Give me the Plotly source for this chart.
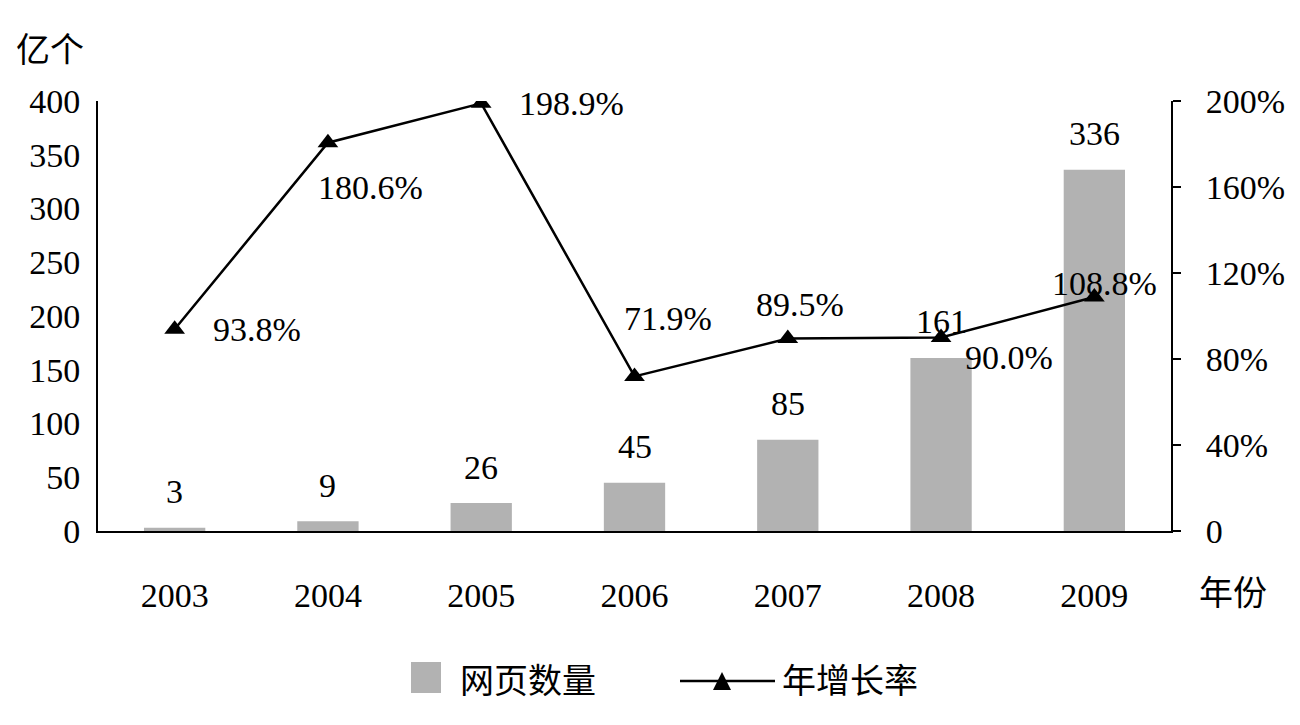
import plotly.graph_objects as go

years = ["2003", "2004", "2005", "2006", "2007", "2008", "2009"]
pages = [3, 9, 26, 45, 85, 161, 336]
growth = [93.8, 180.6, 198.9, 71.9, 89.5, 90.0, 108.8]
growth_labels = ["93.8%", "180.6%", "198.9%", "71.9%", "89.5%", "90.0%", "108.8%"]
# label offsets (px) relative to each point
g_dx = [82, 43, 90, 33, 12, 68, 10]
g_dy = [0, -45, 0, 58, 34, -20, 14]

SERIF = "Liberation Serif, Times New Roman, serif"
CJK = "Noto Sans CJK SC"
FS = 34
GRAY = "#b2b2b2"

L, R, T, B = 98, 129, 101, 194
W, H = 1300, 725
PW, PH = W - L - R, H - T - B


def px(x):
    return (x - L) / PW


def py(y):
    return (H - B - y) / PH


xi = list(range(len(years)))

fig = go.Figure()
fig.add_trace(go.Bar(x=xi, y=pages, marker=dict(color=GRAY, line=dict(width=0)),
                     width=0.4, showlegend=False, yaxis="y"))
fig.add_trace(go.Scatter(x=xi, y=growth, yaxis="y2", mode="lines+markers",
                         line=dict(color="black", width=2.5),
                         marker=dict(symbol="triangle-up", size=18, color="black"),
                         showlegend=False))

annotations = []
for i, v in zip(xi, pages):
    annotations.append(dict(x=i, y=v, xref="x", yref="y", text=str(v), showarrow=False,
                            xanchor="center", yanchor="middle",
                            yshift=36, font=dict(family=SERIF, size=FS, color="black")))
for i, v, t, dx, dy in zip(xi, growth, growth_labels, g_dx, g_dy):
    annotations.append(dict(x=i, y=v, xref="x", yref="y2", text=t, showarrow=False,
                            xanchor="center", yanchor="middle",
                            xshift=dx, yshift=dy, font=dict(family=SERIF, size=FS, color="black")))


def paper_text(x, y, text, xanchor="center"):
    return dict(x=px(x), y=py(y), xref="paper", yref="paper", text=text, showarrow=False,
                xanchor=xanchor, yanchor="middle",
                font=dict(family=CJK, size=FS, color="black"))


annotations.append(paper_text(50, 47, "亿个"))
annotations.append(paper_text(1233, 590, "年份"))
# legend
annotations.append(paper_text(458, 678, "网页数量", "left"))
annotations.append(paper_text(780, 678, "年增长率", "left"))

shapes = [
    dict(type="rect", xref="paper", yref="paper", x0=px(411), x1=px(441), y0=py(693), y1=py(662),
         fillcolor=GRAY, line=dict(width=0)),
    dict(type="line", xref="paper", yref="paper", x0=px(680), x1=px(775), y0=py(681), y1=py(681),
         line=dict(color="black", width=2.5)),
    dict(type="path", xref="paper", yref="paper",
         path=f"M {px(713)},{py(690)} L {px(731)},{py(690)} L {px(722)},{py(672)} Z",
         fillcolor="black", line=dict(width=0)),
]

fig.update_layout(
    width=W, height=H,
    margin=dict(l=L, r=R, t=T, b=B),
    plot_bgcolor="white", paper_bgcolor="white",
    showlegend=False,
    xaxis=dict(range=[-0.5, len(years) - 0.5], tickvals=xi, ticktext=years,
               showline=True, linecolor="black", linewidth=2,
               ticks="", showgrid=False, zeroline=False, ticklabelstandoff=33,
               tickfont=dict(family=SERIF, size=FS, color="black")),
    yaxis=dict(range=[0, 400], tickvals=list(range(0, 401, 50)), showline=True,
               linecolor="black", linewidth=2, ticks="", showgrid=False, zeroline=False,
               ticklabelstandoff=9, tickfont=dict(family=SERIF, size=FS, color="black")),
    yaxis2=dict(range=[0, 200], tickvals=list(range(0, 201, 40)),
                ticktext=["0", "40%", "80%", "120%", "160%", "200%"],
                overlaying="y", side="right", showline=True, linecolor="black", linewidth=2,
                ticks="outside", ticklen=8, tickwidth=2, tickcolor="black",
                showgrid=False, zeroline=False, ticklabelstandoff=18,
                tickfont=dict(family=SERIF, size=FS, color="black")),
    annotations=annotations,
    shapes=shapes,
)

fig.write_html("out.html")
